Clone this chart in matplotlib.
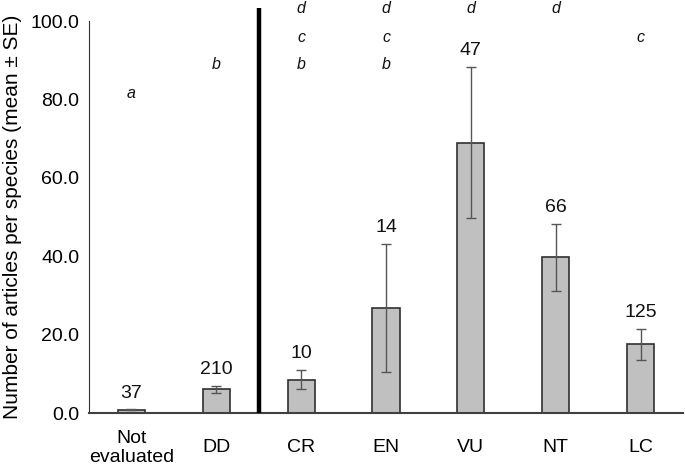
import matplotlib.pyplot as plt
import numpy as np

plt.rcParams['font.family'] = ['Liberation Sans', 'DejaVu Sans']

# Data
categories = ['Not\nevaluated', 'DD', 'CR', 'EN', 'VU', 'NT', 'LC']
means = [0.8, 6.0, 8.5, 26.8, 69.0, 39.7, 17.5]
se = [0.1, 1.0, 2.5, 16.3, 19.3, 8.5, 4.0]
n_species = ['37', '210', '10', '14', '47', '66', '125']
letters = [['a'], ['b'], ['b', 'c', 'd'], ['b', 'c', 'd'], ['d'], ['d'], ['c']]
letter_rows = {'a': 81.4, 'b': 88.8, 'c': 95.9, 'd': 103.3}

x = np.arange(len(categories))

fig = plt.figure(figsize=(6.85, 4.68), dpi=100)
ax = fig.add_axes([0.130, 0.1175, 0.867, 0.8375])

ax.bar(x, means, width=0.32, color='#c0c0c0', edgecolor='#303030', linewidth=1.2, zorder=2)
ax.errorbar(x, means, yerr=se, fmt='none', ecolor='#555555', elinewidth=1.0,
            capsize=3.5, capthick=1.0, zorder=3)

# sample sizes above the error bars
for xi, m, s, lab in zip(x, means, se, n_species):
    ax.text(xi, m + s + 2.0, lab, ha='center', va='bottom', fontsize=14, color='#111111')

# significance letters
for xi, lets in zip(x, letters):
    for l in lets:
        ax.text(xi, letter_rows[l], l, ha='center', va='center', fontsize=11.5,
                style='italic', color='#111111', clip_on=False)

# separator between non-assessed and assessed categories
ax.plot([1.5, 1.5], [0, 103.3], color='black', linewidth=3.2, clip_on=False,
        solid_capstyle='butt', zorder=4)

ax.set_xlim(-0.5, 6.5)
ax.set_ylim(0, 100)
ax.set_yticks(np.arange(0, 101, 20))
ax.set_yticklabels(['%.1f' % v for v in np.arange(0, 101, 20)], fontsize=14)
ax.set_xticks(x)
ax.set_xticklabels(categories, fontsize=14, linespacing=1.15)
plt.setp(ax.get_xticklabels(), va='center')
ax.tick_params(axis='y', length=0, pad=7)
ax.tick_params(axis='x', length=0, pad=25)
ax.set_ylabel('Number of articles per species (mean ± SE)', fontsize=15, labelpad=6)

ax.spines['top'].set_visible(False)
ax.spines['right'].set_visible(False)
ax.spines['left'].set_color('#303030')
ax.spines['bottom'].set_color('#404040')
ax.spines['bottom'].set_linewidth(1.5)

plt.savefig('out.png', dpi=100)
